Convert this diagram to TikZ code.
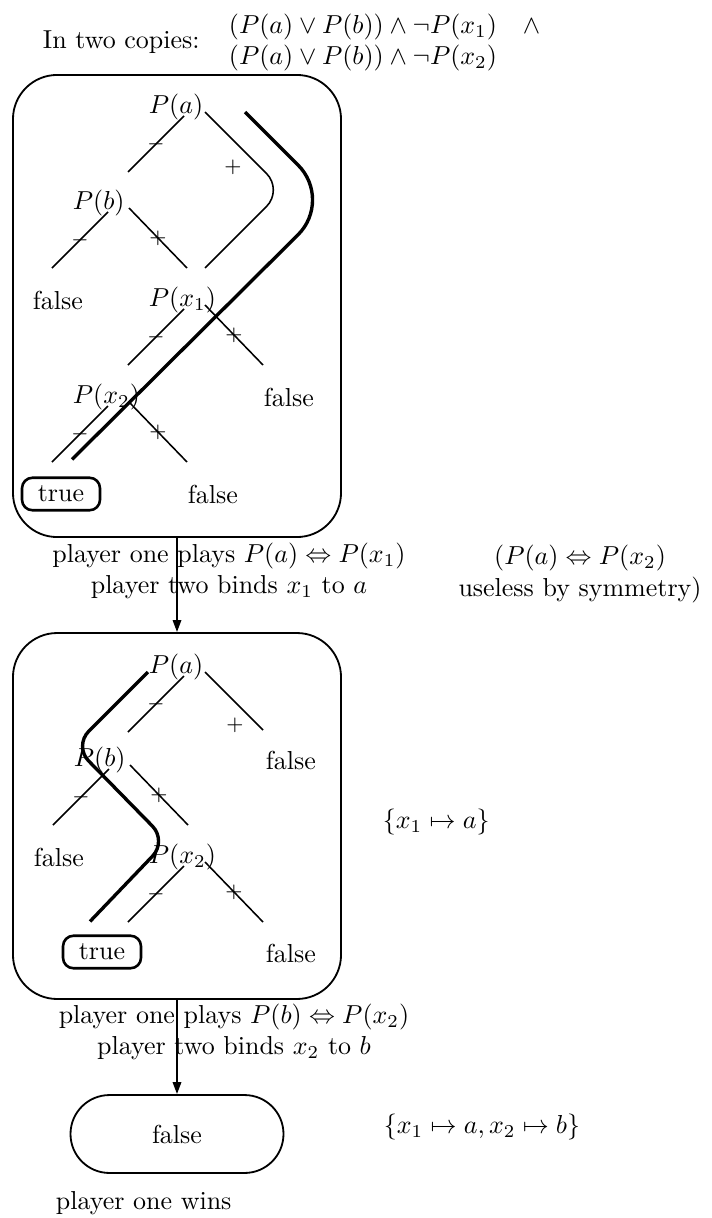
\documentclass[tikz,border=0pt]{standalone}
\usetikzlibrary{arrows.meta, calc}
\tikzset{
  every picture/.style={line width=0.7pt},
  game/.style={draw, rounded corners=17pt, minimum width=126.3pt, inner sep=0pt},
  leaf/.style={draw, line width=1pt, rounded corners=4pt, minimum width=30pt, minimum height=12.5pt, inner sep=0pt},
  arrow/.style={-{Triangle[length=4.6pt,width=3.2pt]}, line width=0.8pt},
  note/.style={inner sep=0pt, align=center},
}

\begin{document}
\begin{tikzpicture}[x=0.385pt, y=-0.385pt,
  lbl/.style={inner sep=0pt, anchor=west},
  edge/.style={line width=0.6pt},
  route/.style={line width=1.3pt},
  sign/.style={inner sep=0pt, font=\footnotesize}]
  \useasboundingbox (0,0) rectangle (712,1218);

  % the formula
  \node[lbl] (copies) at (42,42) {In two copies:};
  \node[lbl] (formula) at (228,43) {$\begin{array}{@{}l@{}}
      (P(a)\vee P(b))\wedge\neg P(x_1)\quad\wedge\\
      (P(a)\vee P(b))\wedge\neg P(x_2)\end{array}$};

  % first game
  \node[game, minimum height=177.9pt] (g1) at (177,306) {};
  \node[lbl] (a1) at (148,107) {$P(a)$};
  \node[lbl] (b1) at (72,203) {$P(b)$};
  \node[lbl] (f1) at (32,300) {false};
  \node[lbl] (x1) at (148,300) {$P(x_1)$};
  \node[lbl] (y1) at (72,397) {$P(x_2)$};
  \node[lbl] (e1) at (263,397) {false};
  \node[leaf] (t1) at (61,494) {true};
  \node[lbl] (h1) at (187,494) {false};

  % second game
  \node[game, minimum height=140.9pt] (g2) at (177,816) {};
  \node[lbl] (a2) at (148,667) {$P(a)$};
  \node[lbl] (b2) at (73,760) {$P(b)$};
  \node[lbl] (e2) at (265,760) {false};
  \node[lbl] (f2) at (33,857) {false};
  \node[lbl] (y2) at (148,857) {$P(x_2)$};
  \node[leaf] (t2) at (102,952) {true};
  \node[lbl] (h2) at (265,953) {false};

  % branches
  \foreach \n in {a1,b1,x1,y1,a2,b2,y2}
    \draw[edge] ($(\n.west)+(36,9)$) -- node[sign] (mi-\n) {$-$} ($(\n.west)+(-20,65)$);
  \foreach \n in {b1,x1,y1,b2,y2}
    \draw[edge] ($(\n.west)+(57,5)$) -- node[sign] (pl-\n) {$+$} ($(\n.west)+(115,65)$);
  \draw[edge, rounded corners=9pt] ($(a1.west)+(57,5)$) -- ++(78,78) -- ($(x1.west)+(57,-32)$);
  \draw[edge] ($(a2.west)+(57,5)$) -- ($(a2.west)+(115,63)$);
  \node[sign] (pl-a1) at ($(a1.west)+(85,60)$) {$+$};
  \node[sign] (pl-a2) at ($(a2.west)+(87,58)$) {$+$};

  % winning plays
  \draw[route, rounded corners=19pt] ($(a1.west)+(97,5)$) -- ++(88,88) -- ($(t1.north)+(11,-17)$);
  \draw[route, rounded corners=8pt] ($(a2.west)+(0,5)$) -- ++(-74,74) -- ++(93,95) -- ($(t2.north)+(-12,-13)$);

  % moves
  \node[game, minimum width=82pt, minimum height=30pt, rounded corners=15pt] (g3) at (177,1134) {false};
  \draw[arrow] (g1.south) -- (g2.north);
  \draw[arrow] (g2.south) -- (g3.north);
  \node[note] (m1) at (229,571) {player one plays $P(a)\Leftrightarrow P(x_1)$\\player two binds $x_1$ to $a$};
  \node[note] (n1) at (580,574) {$(P(a)\Leftrightarrow P(x_2)$\\useless by symmetry)};
  \node[note] (m2) at (234,1032) {player one plays $P(b)\Leftrightarrow P(x_2)$\\player two binds $x_2$ to $b$};
  \node[lbl] (s1) at (382,822) {$\{x_1\mapsto a\}$};
  \node[lbl] (s2) at (383,1127) {$\{x_1\mapsto a, x_2\mapsto b\}$};
  \node[lbl] (w) at (55,1203) {player one wins};
\end{tikzpicture}
\end{document}
